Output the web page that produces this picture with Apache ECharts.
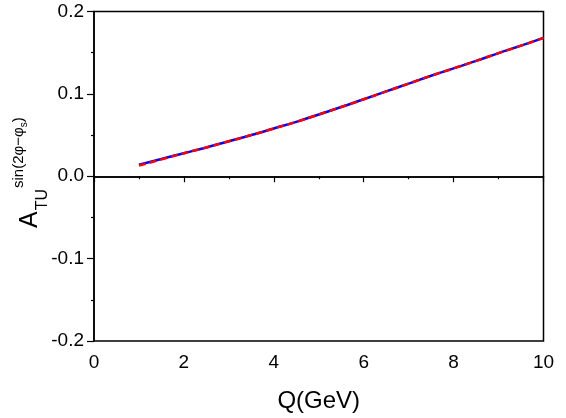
<!DOCTYPE html>
<html>
<head>
<meta charset="utf-8">
<script src="https://cdn.jsdelivr.net/npm/echarts@6/dist/echarts.min.js"></script>
<style>html,body{margin:0;padding:0;background:#fff;}#c{width:566px;height:418px;}</style>
</head>
<body>
<div id="c"></div>
<script>
var qValues = [1, 1.5, 2, 2.5, 3, 3.5, 4, 4.5, 5, 5.5, 6, 6.5, 7, 7.5, 8, 8.5, 9, 9.5, 10];
var blueSolid = [0.014, 0.021, 0.028, 0.035, 0.0425, 0.050, 0.058, 0.066, 0.075, 0.084, 0.0935, 0.103, 0.1125, 0.122, 0.131, 0.140, 0.1495, 0.1585, 0.168];
var redDashed = [0.013, 0.0205, 0.028, 0.035, 0.0425, 0.050, 0.058, 0.066, 0.075, 0.084, 0.0935, 0.103, 0.1125, 0.122, 0.131, 0.140, 0.1495, 0.1585, 0.168];
var xTicks = [0, 2, 4, 6, 8, 10];
var yTicks = [-0.2, -0.1, 0.0, 0.1, 0.2];
var yNameParts = ['A', 'TU', 'sin(2\u03C6\u2212\u03C6', 's', ')'];

var FONT = '"Liberation Sans", Arial, sans-serif';
function pairs(xs, ys) { return xs.map(function (x, i) { return [x, ys[i]]; }); }

// measure text to chain the rotated y-axis title pieces
var mctx = document.createElement('canvas').getContext('2d');
function tw(text, size) { mctx.font = size + 'px ' + FONT; return mctx.measureText(text).width; }

// pieces: [fontSize, centerX]
var pieceStyle = [[25, 30], [16, 43], [15, 19], [10, 24], [15, 19]];
var gaps = [0, 1, 1, 0, 0];
var yPos = 228;
var nameGraphics = [];
yNameParts.forEach(function (t, i) {
  var fs = pieceStyle[i][0];
  yPos -= gaps[i];
  nameGraphics.push({ type: 'text', x: pieceStyle[i][1], y: yPos, rotation: Math.PI / 2,
    style: { text: t, font: fs + 'px ' + FONT, fill: '#000', textAlign: 'left', textVerticalAlign: 'middle' } });
  yPos -= tw(t, fs);
});

var chart = echarts.init(document.getElementById('c'), null, { renderer: 'canvas' });
chart.setOption({
  animation: false,
  backgroundColor: '#fff',
  grid: { left: 94, right: 22.5, top: 11.5, bottom: 73, show: true, borderColor: '#000', borderWidth: 1.5, backgroundColor: 'transparent' },
  xAxis: {
    type: 'value', min: xTicks[0], max: xTicks[xTicks.length - 1], interval: 2,
    name: 'Q(GeV)', nameLocation: 'middle', nameGap: 48,
    nameTextStyle: { fontFamily: FONT, fontSize: 24, color: '#000' },
    axisLine: { show: true, lineStyle: { color: '#000', width: 1.5 } },
    axisTick: { show: true, inside: false, length: 6, lineStyle: { color: '#000', width: 1.2 } },
    minorTick: { show: true, splitNumber: 2, length: 3, lineStyle: { color: '#000', width: 1.2 } },
    axisLabel: { fontFamily: FONT, fontSize: 19, color: '#000', margin: 12 },
    splitLine: { show: false }
  },
  yAxis: {
    type: 'value', min: yTicks[0], max: yTicks[yTicks.length - 1], interval: 0.1,
    axisLine: { show: true, onZero: false, lineStyle: { color: '#000', width: 1.5 } },
    axisTick: { show: true, inside: false, length: 7, lineStyle: { color: '#000', width: 1.2 } },
    minorTick: { show: true, splitNumber: 2, length: 3, lineStyle: { color: '#000', width: 1.2 } },
    axisLabel: { fontFamily: FONT, fontSize: 19, color: '#000', margin: 10, formatter: function (v) { return v.toFixed(1); } },
    splitLine: { show: false }
  },
  graphic: nameGraphics,
  series: [
    {
      type: 'line', data: pairs(qValues, blueSolid), smooth: true, showSymbol: false, symbol: 'none',
      lineStyle: { color: '#0000ff', width: 2.5, type: 'solid' },
      markLine: { silent: true, symbol: 'none', label: { show: false }, lineStyle: { color: '#000', width: 1.5, type: 'solid' }, data: [{ yAxis: 0 }] }
    },
    {
      type: 'line', data: pairs(qValues, redDashed), smooth: true, showSymbol: false, symbol: 'none',
      lineStyle: { color: '#ff0000', width: 2.5, type: [7, 4] }
    }
  ]
});
</script>
</body>
</html>
